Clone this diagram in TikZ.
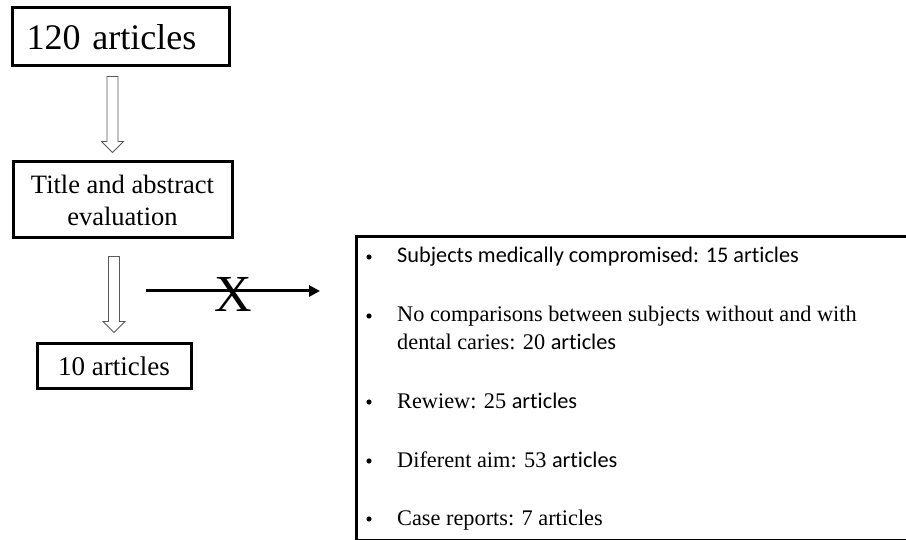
\documentclass[tikz,border=0pt]{standalone}
\usepackage{fontspec}
\setmainfont{Liberation Serif}
\newfontfamily\calib[Ligatures=NoCommon]{Carlito}
\usetikzlibrary{arrows.meta,calc}

\newcommand{\hollowdown}[2]{\draw[hollow] (#1) ++(-5.5,0) -- ++(0,#2) -- ++(-5.5,0) -- ++(11,11) -- ++(11,-11) -- ++(-5.5,0) -- ++(0,-#2) -- cycle;}

\begin{document}
\begin{tikzpicture}[x=1pt,y=-1pt,
	box/.style={draw, line width=3pt, inner sep=0pt},
	hollow/.style={draw=black!65, line width=0.8pt, fill=white},
	item/.style={anchor=base west, inner sep=0pt, font=\fontsize{22.3}{26}\selectfont}]
\useasboundingbox (0,0) rectangle (906,540);
\clip (0,0) rectangle (906,540);

\node[box, minimum width=217pt, minimum height=58pt, text width=200pt, align=left, font=\fontsize{36}{43}\selectfont] (all) at (120.5,37) {\hspace*{6pt}120 articles};
\node[box, minimum width=219pt, minimum height=76pt, align=center, font=\fontsize{26.5}{32}\selectfont] (screen) at (122.5,200) {Title and abstract\\evaluation};
\node[box, minimum width=154pt, minimum height=45pt, font=\fontsize{27}{32}\selectfont] (kept) at (114,366.5) {10 articles};
\node[box, anchor=north west, minimum width=560pt, minimum height=304pt] (excl) at (355,235) {};

\coordinate (a1) at ($(all.south)+(-8,9)$);
\coordinate (a2) at ($(screen.south)+(-8.5,17)$);
\hollowdown{a1}{65}
\hollowdown{a2}{65}

\coordinate (split) at (146,291);
\draw[line width=3pt, -{Triangle[length=11pt,width=11pt]}] (split) -- ($(excl.west|-split)+(-35,0)$);
\node[anchor=base, inner sep=0pt, font=\fontsize{52}{60}\selectfont] (cross) at (233.5,312) {X};

\foreach \y in {263,322,408,467,525}{
\fill (369,\y-6) circle (2.6pt);
}
\foreach \n/\y/\t in {1/263/{\calib Subjects medically compromised: 15 articles},
	2/322/{No comparisons between subjects without and with},
	3/350/{dental caries: 20 {\calib articles}},
	4/408/{Rewiew: 25 {\calib articles}},
	5/467/{Diferent aim: 53 {\calib articles}},
	6/525/{Case reports: 7 articles}}{
\node[item] (i\n) at (397,\y) {\t};
}
\end{tikzpicture}
\end{document}
